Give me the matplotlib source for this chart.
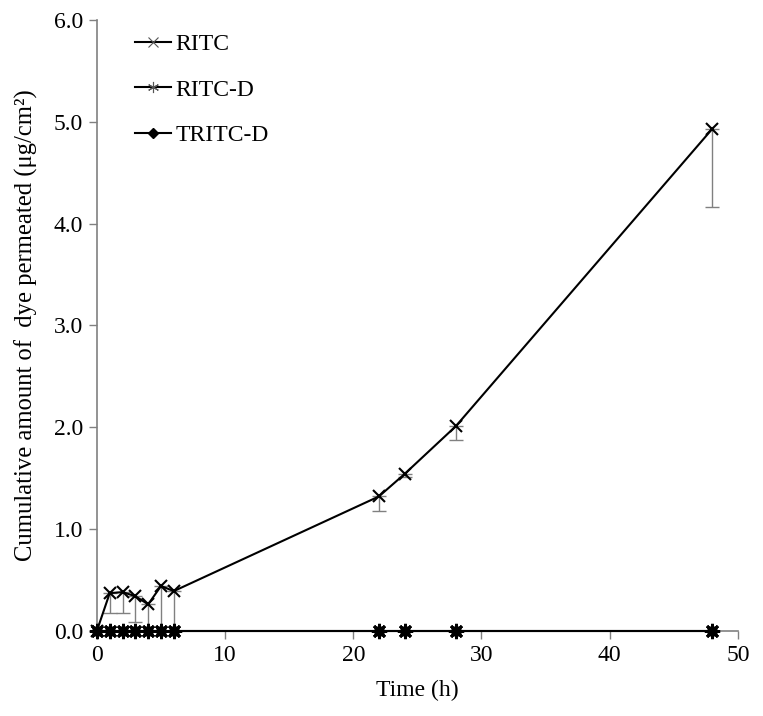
import matplotlib
matplotlib.use("Agg")
import matplotlib.pyplot as plt
from matplotlib.ticker import FormatStrFormatter
from matplotlib.lines import Line2D

plt.rcParams['font.family'] = ['Liberation Serif', 'DejaVu Serif']

time_h = [0, 1, 2, 3, 4, 5, 6, 22, 24, 28, 48]
ritc = [0.0, 0.37, 0.38, 0.34, 0.26, 0.44, 0.39, 1.32, 1.54, 2.01, 4.93]
ritc_err_low = [0.0, 0.20, 0.21, 0.25, 0.26, 0.44, 0.39, 0.14, 0.03, 0.14, 0.77]
ritc_d = [0.0] * 11
tritc_d = [0.0] * 11
labels = ["RITC", "RITC-D", "TRITC-D"]

fig = plt.figure(figsize=(7.63, 7.16), dpi=100)
ax = fig.add_axes([0.127, 0.119, 0.840, 0.853])

gray = '#808080'
ax.errorbar(time_h, ritc, yerr=[ritc_err_low, [0] * len(ritc)], fmt='none',
            ecolor=gray, elinewidth=1.0, capsize=5, capthick=1.0, zorder=1)
ax.plot(time_h, tritc_d, color='black', lw=1.5, marker='D', ms=6,
        markerfacecolor='black', zorder=3, clip_on=False)
ax.plot(time_h, ritc_d, color='black', lw=1.5, marker=(8, 2, 0), ms=11,
        markeredgewidth=2.0, zorder=4, clip_on=False)
ax.plot(time_h, ritc, color='black', lw=1.5, marker='x', ms=8.5,
        markeredgewidth=1.5, zorder=5, clip_on=False)

ax.set_xlim(0, 50)
ax.set_ylim(0, 6)
ax.set_xticks([0, 10, 20, 30, 40, 50])
ax.set_yticks([0, 1, 2, 3, 4, 5, 6])
ax.yaxis.set_major_formatter(FormatStrFormatter('%.1f'))
ax.tick_params(axis='both', direction='out', length=6, width=1, color=gray,
               labelsize=17, pad=4)
for s in ['top', 'right']:
    ax.spines[s].set_visible(False)
for s in ['left', 'bottom']:
    ax.spines[s].set_color(gray)
    ax.spines[s].set_linewidth(1.2)

ax.set_xlabel('Time (h)', fontsize=17, labelpad=10)
ax.set_ylabel('Cumulative amount of  dye permeated (μg/cm²)', fontsize=17.7, labelpad=11)

handles = [
    Line2D([], [], color='black', lw=1.5, marker='x', ms=7, mew=0.8, mec='#555555'),
    Line2D([], [], color='black', lw=1.5, marker=(6, 2, 0), ms=8, mew=0.8, mec='#555555'),
    Line2D([], [], color='black', lw=1.5, marker='D', ms=5, mfc='black', mec='black'),
]
ax.legend(handles, labels, loc='upper left', bbox_to_anchor=(0.027, 1.012),
          frameon=False, fontsize=17, handlelength=1.5, handletextpad=0.2,
          labelspacing=1.0)

fig.savefig('out.png', dpi=100)
